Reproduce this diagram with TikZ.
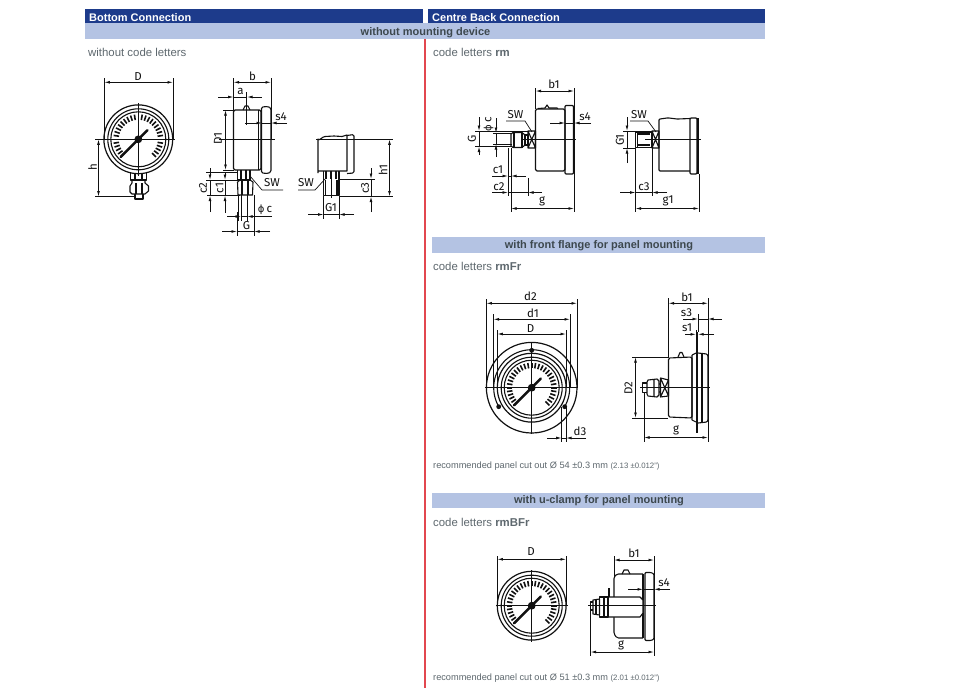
\documentclass[tikz,border=0pt]{standalone}
\usepackage{fontspec}
\setmainfont{Liberation Sans}
\newfontfamily\drawfont{Fira Sans}
\newfontfamily\phifont{DejaVu Sans}
\usetikzlibrary{arrows.meta}
\definecolor{hdark}{HTML}{1D3B8B}
\definecolor{hlight}{HTML}{B4C3E3}
\definecolor{txtgray}{HTML}{5E686E}
\definecolor{txtdark}{HTML}{3D484E}
\definecolor{redline}{HTML}{E2474F}
\definecolor{ink}{HTML}{111111}
\tikzset{
  hdrtext/.style={font=\bfseries\fontsize{11}{12}\selectfont,inner sep=0pt},
  bartext/.style={hdrtext,text=txtdark},
  infotext/.style={anchor=west,inner sep=0pt,text=txtgray,font=\fontsize{11.4}{12}\selectfont},
  smalltext/.style={anchor=west,inner sep=0pt,text=txtgray,font=\fontsize{9.2}{10}\selectfont},
  lab/.style={inner sep=0pt,text=ink,font=\drawfont\fontsize{11.5}{12}\selectfont},
  rlab/.style={lab,rotate=90},
  part/.style={draw=ink,line width=1.1pt,line join=round},
  thin part/.style={draw=ink,line width=0.8pt},
  dim/.style={draw=ink,line width=0.8pt},
  dimb/.style={dim,{Latex[length=5.5pt,width=2.8pt]}-{Latex[length=5.5pt,width=2.8pt]}},
  dimto/.style={dim,-{Latex[length=5.5pt,width=2.8pt]}},
  ext/.style={draw=ink,line width=0.7pt},
  center/.style={draw=ink,line width=0.8pt},
}
\newcommand{\gaugeface}[3]{% cx, cy, outer radius (scale 1 = 34.4)
  \begin{scope}[shift={(#1,#2)},x=#3/34.4*1pt,y=-#3/34.4*1pt]
    \draw[part,line width=1.2pt] (0,0) circle[radius=34.4];
    \draw[part] (0,0) circle[radius=30.5];
    \draw[part] (0,0) circle[radius=27.5];
    \foreach \a in {135,144,...,405}{
      \draw[ink,line width=1.6pt] (\a:19.5) -- (\a:25);
    }
    \draw[ink,line width=2.4pt,line cap=round] (135:25) -- (315:13);
    \fill[ink] (0,0) circle[radius=3.9];
  \end{scope}
}
\begin{document}
\begin{tikzpicture}[x=1pt,y=-1pt]
\useasboundingbox (0,0) rectangle (960,688);
\fill[white] (0,0) rectangle (960,688);
% ---------- header bars
\fill[hlight] (85,23) rectangle (765,39);
\fill[hdark] (85,9) rectangle (423,23);
\fill[hdark] (428,9) rectangle (765,23);
\fill[hlight] (432,237) rectangle (765,253);
\fill[hlight] (432,493) rectangle (765,508);
\draw[redline,line width=1.1pt] (425,39) -- (425,688);
\node[hdrtext,text=white,anchor=west] (h1) at (89,17.3) {Bottom Connection};
\node[hdrtext,text=white,anchor=west] (h2) at (432,17.3) {Centre Back Connection};
\node[bartext] (b1) at (425.5,32.3) {without mounting device};
\node[bartext] (b2) at (599,245.6) {with front flange for panel mounting};
\node[bartext] (b3) at (599,500.8) {with u-clamp for panel mounting};
\node[infotext] (i1) at (88,52.5) {without code letters};
\node[infotext] (i2) at (433,52.5) {code letters \textbf{rm}};
\node[infotext] (i3) at (433,266.2) {code letters \textbf{rmFr}};
\node[infotext] (i4) at (433,522.2) {code letters \textbf{rmBFr}};
\node[smalltext] (n1) at (433,466.5) {recommended panel cut out Ø 54 ±0.3 mm {\fontsize{7.8}{8}\selectfont (2.13 ±0.012")}};
\node[smalltext] (n2) at (433,678.2) {recommended panel cut out Ø 51 ±0.3 mm {\fontsize{7.8}{8}\selectfont (2.01 ±0.012")}};

% ========== Bottom connection: front view
\gaugeface{138.3}{139.3}{34.4}
\draw[center] (95,139.3) -- (175,139.3) (138.3,103) -- (138.3,176);
\draw[part] (130.5,173) -- (130.5,180) -- (146.5,180) -- (146.5,173) (135,173) -- (135,180) (142,173) -- (142,180);
\draw[part] (132,180.5) -- (132,183) -- (130,186) -- (130,192) -- (132,194) -- (145,194) -- (148.5,191) -- (148.5,186) -- (145,183) -- (145,180.5);
\draw[part] (135,194) -- (135,199) -- (143,199) -- (143,194);
\draw[part] (136,183) -- (136,194) (142,183) -- (142,194);
\draw[ext] (104.3,78) -- (104.3,139) (173,78) -- (173,139);
\draw[dimb] (104.3,82.3) -- (173,82.3);
\node[lab] (tD1) at (138,76.5) {D};
\draw[ext] (95,196.5) -- (136,196.5);
\draw[dimb] (98.5,139.3) -- (98.5,196.5);
\node[rlab] (th) at (92.5,167) {h};

% ========== Bottom connection: side view
\draw[part,rounded corners=1.5pt] (233.5,110) -- (261,110) -- (261,170) -- (233.5,170) -- cycle;
\draw[part,rounded corners=1.5pt] (261.5,107) -- (268,106.5) -- (271,108) -- (271,172) -- (268,173.5) -- (261.5,173) -- cycle;
\draw[thin part] (258,110) -- (258,170);
\draw[part] (243,110) -- (245,106) -- (248,106) -- (250,110);
\draw[center] (219,139.3) -- (275,139.3) (246.7,92) -- (246.7,125);
\draw[part] (237.5,170) -- (237.5,180) (250,170) -- (250,180) (241,170) -- (241,180) (246,170) -- (246,180) (237,180) -- (251,180);
\draw[part] (237.5,182) -- (238,195) -- (252.5,195) -- (253,182) -- (250,180) (237.5,182) -- (240,180);
\draw[part] (242,180) -- (242,195) (248,180) -- (248,195);
\draw[ext] (233.5,78) -- (233.5,110) (271,78) -- (271,139);
\draw[dimb] (233.5,82.3) -- (271,82.3);
\node[lab] (tb) at (252.5,76.5) {b};
\draw[ext] (233.5,92) -- (233.5,110);
\draw[dimto] (218,97) -- (233.5,97);
\draw[dimto] (261.5,97) -- (247,97);
\draw[dim] (233.5,97) -- (247,97);
\node[lab] (ta) at (240.5,91) {a};
\draw[ext] (223,110) -- (234,110) (223,170) -- (234,170);
\draw[dimb] (225.5,110) -- (225.5,170);
\node[rlab] (tD1b) at (218,138.5) {D1};
\draw[dimto] (245,123) -- (262,123);
\draw[dimto] (287,123) -- (271,123);
\draw[dim] (262,123) -- (271,123);
\node[lab] (ts4a) at (281,116.5) {s4};
% bottom dimensions
\draw[ext] (206,180) -- (238,180) (207,195.5) -- (240,195.5);
\draw[ext] (206,172) -- (237,172);
\draw[dimto] (210,168) -- (210,180);
\draw[dimto] (210,212) -- (210,195.5);
\draw[dim] (210,180) -- (210,195.5);
\draw[dimto] (225,172) -- (225,180);
\draw[dimto] (225,213) -- (225,195.5);
\draw[dim] (225,180) -- (225,195.5);
\node[rlab] (tc2a) at (203,188) {c2};
\node[rlab] (tc1a) at (219.5,188) {c1};
\draw[ext] (250,176) -- (262,190) -- (283,190);
\node[lab] (tSWa) at (272,183) {SW};
\draw[ext] (238,195) -- (238,221) (241,195) -- (241,221) (254,195) -- (254,236) (247,195) -- (247,221);
\draw[dimto] (227,216.5) -- (241,216.5);
\draw[dimto] (272,216.5) -- (247,216.5);
\draw[dim] (241,216.5) -- (247,216.5);
\node[lab] (tphia) at (265,209.5) {{\phifont\fontsize{10}{12}\selectfont ϕ}\,c};
\draw[dimto] (222,231.5) -- (237,231.5);
\draw[dimto] (270,231.5) -- (254,231.5);
\draw[dim] (237,231.5) -- (254,231.5);
\draw[ext] (237,212) -- (237,236);
\node[lab] (tGa) at (246.5,226) {G};

% ========== Bottom connection: third view
\draw[part] (318,173) -- (318,139) to[out=-70,in=180] (325,136.5) to[out=0,in=180] (334,136) to[out=0,in=180] (342,136.5) -- (347,135) -- (347,171) -- (318,171);
\draw[part,rounded corners=1.5pt] (347,135.5) -- (354,134.5) -- (354,173) -- (347,173.5);
\draw[part] (323.5,171) -- (323.5,195.5) -- (339,195.5) -- (339,171) (326,171) -- (326,179) (331,171) -- (331,179) (336,171) -- (336,179) (325.5,180) -- (325.5,195) (337,180) -- (337,195);
\draw[center] (316,139.3) -- (393,139.3) (331,171) -- (331,198);
\draw[ext] (339,196.5) -- (393,196.5) (340,179) -- (375,179);
\draw[dimb] (389.5,139.3) -- (389.5,196.5);
\node[rlab] (th1) at (383,170) {h1};
\draw[dimto] (371,168) -- (371,179);
\draw[dimto] (371,212) -- (371,196.5);
\draw[dim] (371,179) -- (371,196.5);
\node[rlab] (tc3a) at (365,188) {c3};
\draw[ext] (326,178) -- (315,190) -- (298,190);
\node[lab] (tSWb) at (306,183) {SW};
\draw[ext] (323.5,196) -- (323.5,219) (339,196) -- (339,219);
\draw[dimto] (308,214.5) -- (323.5,214.5);
\draw[dimto] (354,214.5) -- (339,214.5);
\draw[dim] (323.5,214.5) -- (339,214.5);
\node[lab] (tG1a) at (331,208) {G1};

% ========== rm view 1
\draw[part,rounded corners=1.5pt] (535.5,109) -- (565,109) -- (565,171) -- (535.5,171) -- cycle;
\draw[part,rounded corners=1pt] (565,105.5) -- (573.5,105.5) -- (573.5,174) -- (565,174) -- cycle;
\draw[part] (538,108.5) -- (545,108) -- (547,105) -- (549,108) -- (557,108) -- (558,108.5);
\draw[center] (521,139.5) -- (576,139.5);
\draw[part] (528,131) rectangle (535.5,148) (528,131) -- (535.5,148) (528,148) -- (535.5,131);
\draw[part] (525,135) rectangle (528,145);
\draw[part] (513,132.5) -- (522,132.5) -- (525,135) (513,147.5) -- (522,147.5) -- (525,145) (513,132.5) -- (511,134) -- (511,146) -- (513,147.5);
\draw[part] (522,132.5) -- (522,147.5) (514,132.5) -- (514,147.5);
\draw[ext] (535.5,88) -- (535.5,109) (574,88) -- (574,212);
\draw[dimb] (535.5,91) -- (574,91);
\node[lab] (tb1a) at (554,84) {b1};
\draw[dimto] (550,123) -- (565,123);
\draw[dimto] (591,123) -- (574,123);
\draw[dim] (565,123) -- (574,123);
\node[lab] (ts4b) at (585,116.5) {s4};
\draw[ext] (528,131) -- (475,131) (511,146.5) -- (475,146.5) (512,133) -- (493,133) (512,144) -- (493,144);
\draw[dimto] (479,117) -- (479,131);
\draw[dimto] (479,155) -- (479,146.5);
\draw[dim] (479,131) -- (479,146.5);
\node[rlab] (tGb) at (472,139) {G};
\draw[dimto] (496,118) -- (496,133);
\draw[dimto] (496,157) -- (496,144);
\draw[dim] (496,133) -- (496,144);
\node[rlab] (tphib) at (488.5,124) {{\phifont\fontsize{10}{12}\selectfont ϕ}\,c};
\draw[ext] (532,132) -- (525,121) -- (506,121);
\node[lab] (tSWc) at (515.5,115) {SW};
\draw[ext] (508,148) -- (508,196) (511,148) -- (511,212) (528,178) -- (528,196);
\draw[dimto] (492,176) -- (508,176);
\draw[dimto] (526,176) -- (511,176);
\draw[dim] (508,176) -- (511,176);
\node[lab] (tc1b) at (498,170) {c1};
\draw[dimto] (492,192.5) -- (508,192.5);
\draw[dimto] (542,192.5) -- (528,192.5);
\draw[dim] (508,192.5) -- (528,192.5);
\node[lab] (tc2b) at (499,186.5) {c2};
\draw[dimb] (511,208.5) -- (574,208.5);
\node[lab] (tg1) at (542,201.5) {g};

% ========== rm view 2
\draw[part,rounded corners=1pt] (690,171) -- (659,171) -- (659,119) to[out=0,in=180] (668,118) to[out=0,in=180] (678,119) -- (690,118.5);
\draw[part,rounded corners=1pt] (690,118) -- (697,118) -- (697,174) -- (690,174) -- cycle;
\draw[ink,line width=1.4pt] (698,118) -- (698,174);
\draw[center] (645,139.5) -- (701,139.5);
\draw[part] (652,131) rectangle (659,148) (652,131) -- (659,148) (652,148) -- (659,131);
\draw[part] (635.5,132) rectangle (652,147.5) (637.5,134) -- (650,134) (637.5,145) -- (650,145) (637.5,132) -- (637.5,147.5);
\draw[ext] (652,131) -- (623,131) (635,148) -- (623,148);
\draw[dimto] (627,117) -- (627,131);
\draw[dimto] (627,163) -- (627,148);
\draw[dim] (627,131) -- (627,148);
\node[rlab] (tG1b) at (620,140) {G1};
\draw[ext] (656,132) -- (648,121) -- (630,121);
\node[lab] (tSWd) at (639,115) {SW};
\draw[ext] (635.5,148) -- (635.5,212) (652,148) -- (652,196) (699,174) -- (699,212);
\draw[dimto] (620,192.5) -- (635.5,192.5);
\draw[dimto] (667,192.5) -- (652,192.5);
\draw[dim] (635.5,192.5) -- (652,192.5);
\node[lab] (tc3b) at (644,186.5) {c3};
\draw[dimb] (635.5,208.5) -- (699,208.5);
\node[lab] (tg1b) at (668,201) {g1};

% ========== rmFr front
\gaugeface{531.7}{387.7}{34.4}
\draw[part,line width=1.2pt] (531.7,387.7) circle[radius=45.3];
\draw[part] plot[domain=150:390,samples=60] ({531.7+38*cos(\x)},{387.7+38*sin(\x)});
\foreach \px/\py in {531.7/350.3,498.7/406.7,564.7/406.7}{
  \fill[ink] (\px,\py) circle[radius=2.4];
}
\draw[center,line width=1pt] (485,387.7) -- (578,387.7) (531.7,342) -- (531.7,434);
\draw[ext] (486.3,299) -- (486.3,388) (577,299) -- (577,388);
\draw[dimb] (486.3,303.3) -- (577,303.3);
\node[lab] (td2) at (530.5,296.5) {d2};
\draw[ext] (493.5,314) -- (493.5,388) (570,314) -- (570,388);
\draw[dimb] (493.5,319.3) -- (570,319.3);
\node[lab] (td1) at (533,313) {d1};
\draw[ext] (497.3,330) -- (497.3,388) (566,330) -- (566,388);
\draw[dimb] (497.3,334) -- (566,334);
\node[lab] (tDb) at (530.5,329) {D};
\draw[ext] (561.7,407) -- (561.7,442) (566,407) -- (566,442);
\draw[dimto] (547,438) -- (561.7,438);
\draw[dimto] (586,438) -- (566,438);
\draw[dim] (561.7,438) -- (566,438);
\node[lab] (td3) at (580,431) {d3};

% ========== rmFr side
\draw[part,rounded corners=1.5pt] (692,357) -- (668.5,358) -- (668.5,417) -- (692,418) -- cycle;
\draw[part] (692,355) -- (696,353) (692,420) -- (696,422) (692,355) -- (692,420);
\fill[ink] (695.8,332) rectangle (698.2,433);
\draw[part,rounded corners=1pt] (698,353) -- (707,354) -- (708,356) -- (708,420) -- (707,422) -- (698,423);
\draw[part] (702,354) -- (702,422);
\draw[part] (678,357) -- (680,352.5) -- (682,352.5) -- (684,357);
\draw[center] (640,387.7) -- (710,387.7);
\draw[part] (660.5,378) -- (668.5,380) -- (668.5,396) -- (660.5,397) -- cycle (660.5,378) -- (668.5,396) (660.5,397) -- (668.5,380);
\draw[part] (648,380) -- (657,379) -- (659,381) -- (659,395) -- (657,397) -- (648,396) -- (647,394) -- (647,382) -- cycle (654,379) -- (654,397) (659,384) -- (660.5,384) (659,392) -- (660.5,392);
\draw[part] (647,383) -- (642.5,383) -- (642.5,392.5) -- (647,392.5);
\draw[ext] (668.5,298) -- (668.5,358) (708,298) -- (708,442);
\draw[dimb] (668.5,303.3) -- (708,303.3);
\node[lab] (tb1b) at (687,297) {b1};
\draw[ext] (698,314) -- (698,332) (696,330) -- (696,340);
\draw[dimto] (683,319) -- (698,319);
\draw[dimto] (722,319) -- (708,319);
\draw[dim] (698,319) -- (708,319);
\node[lab] (ts3) at (686.5,313) {s3};
\draw[dimto] (685,334.3) -- (696,334.3);
\draw[dimto] (714,334.3) -- (698,334.3);
\node[lab] (ts1) at (687,328) {s1};
\draw[ext] (632,357) -- (668,357) (632,418) -- (668,418);
\draw[dimb] (635.5,357) -- (635.5,418);
\node[rlab] (tD2) at (628.5,388) {D2};
\draw[ext] (644,392) -- (644,442);
\draw[dimb] (644,437.5) -- (708,437.5);
\node[lab] (tg2) at (676,430.5) {g};

% ========== rmBFr front
\gaugeface{531.7}{605.7}{34.4}
\draw[center] (496,605.7) -- (568,605.7) (531.7,570) -- (531.7,642);
\draw[ext] (497.3,556) -- (497.3,606) (566,556) -- (566,606);
\draw[dimb] (497.3,559.3) -- (566,559.3);
\node[lab] (tDc) at (531,552) {D};

% ========== rmBFr side
\draw[part,rounded corners=1.5pt] (614,597) -- (614,577) -- (617,574) -- (643,574) (614,617) -- (614,634) -- (617,638) -- (643,638);
\draw[part,rounded corners=1pt] (645,572.5) -- (651,572.5) -- (654,574) -- (654,639) -- (651,640.5) -- (645,640.5) -- cycle;
\draw[part] (643,574) -- (643,638);
\draw[part] (622,574) -- (624,570) -- (628,570) -- (630,574);
\draw[part,fill=white] (608,597) -- (640,597) -- (643,600) -- (643,613) -- (640,617) -- (608,617) -- cycle;
\fill[ink] (607.5,588) rectangle (610,597);
\draw[part] (599.5,597) -- (608,597) -- (608,617) -- (599.5,617) -- cycle (604,597) -- (604,617);
\draw[part] (593,600) -- (599.5,599) -- (599.5,615) -- (593,614) -- cycle;
\draw[part] (596,600) -- (596,614);
\draw[part] (593,602) -- (590.5,602) -- (590.5,610) -- (593,610);
\draw[center] (588,605.7) -- (656,605.7);
\draw[ext] (614,556) -- (614,577) (654,556) -- (654,656) (590.5,610) -- (590.5,656);
\draw[dimb] (614,560) -- (654,560);
\node[lab] (tb1c) at (634,553) {b1};
\draw[dimto] (628,589.3) -- (643,589.3);
\draw[dimto] (670,589.3) -- (654,589.3);
\draw[dim] (643,589.3) -- (654,589.3);
\node[lab] (ts4c) at (664,583) {s4};
\draw[dimb] (590.5,652) -- (654,652);
\node[lab] (tg3) at (621,645) {g};
\end{tikzpicture}
\end{document}
